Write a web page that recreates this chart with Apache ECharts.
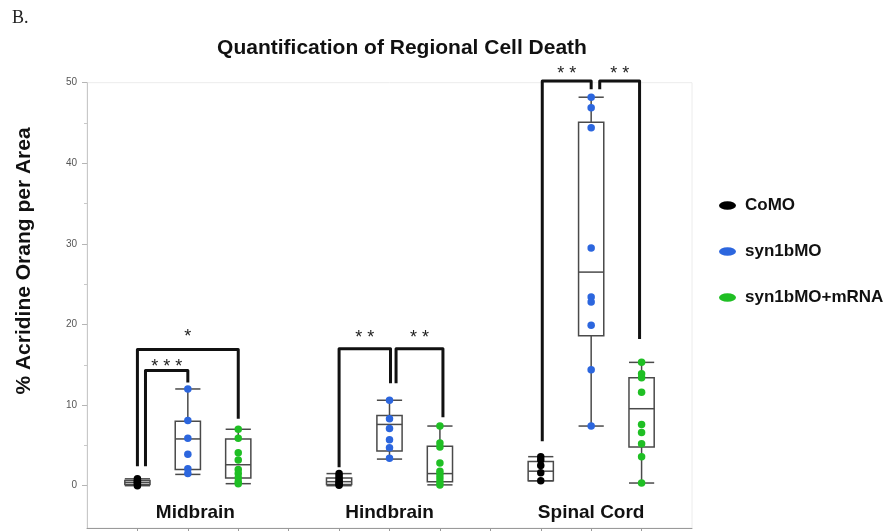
<!DOCTYPE html>
<html><head><meta charset="utf-8">
<script src="https://cdn.jsdelivr.net/npm/echarts@6/dist/echarts.min.js"></script>
<style>html,body{margin:0;padding:0;background:#fff}#c{width:893px;height:531px}</style>
</head><body><div id="c"></div>
<script>
const regions = ['Midbrain', 'Hindbrain', 'Spinal Cord'];
const groups = ['CoMO', 'syn1bMO', 'syn1bMO+mRNA'];
const yTicks = [0, 10, 20, 30, 40, 50];
const yMinorTicks = [5, 15, 25, 35, 45];
const xTicks = [0, 1, 2, 3, 4, 5, 6, 7, 8, 9, 10];
const regionLabelPos = [1.15, 5, 9];

// box statistics per region: [min, q1, median, q3, max]
const comoBoxes = [[0.0, 0.15, 0.4, 0.65, 0.85], [0.0, 0.15, 0.5, 0.95, 1.5], [0.6, 0.6, 1.8, 3.0, 3.6]];
const synBoxes = [[1.4, 2.0, 5.8, 8.0, 12.0], [3.3, 4.3, 7.6, 8.7, 10.6], [7.4, 18.6, 26.5, 45.1, 48.2]];
const rescueBoxes = [[0.25, 0.95, 2.6, 5.8, 7.0], [0.1, 0.5, 1.5, 4.9, 7.4], [0.33, 4.8, 9.55, 13.4, 15.3]];

// individual points per region
const comoPoints = [[0.0, 0.2, 0.35, 0.5, 0.65, 0.85], [0.05, 0.2, 0.4, 0.6, 0.9, 1.2, 1.5], [0.6, 1.6, 2.5, 3.2, 3.6]];
const synPoints = [[12.0, 8.1, 5.9, 3.9, 2.1, 1.5], [10.6, 8.3, 7.1, 5.7, 4.7, 3.4], [48.2, 46.9, 44.4, 29.5, 23.4, 22.8, 19.9, 14.4, 7.4]];
const rescuePoints = [[7.0, 5.9, 4.1, 3.2, 2.0, 1.5, 1.0, 0.5, 0.25], [7.4, 5.3, 4.8, 2.8, 1.8, 1.4, 0.95, 0.5, 0.1], [15.3, 13.9, 13.4, 11.6, 7.6, 6.6, 5.2, 3.6, 0.33]];

// significance brackets: [xLeft, xRight, yLeftEnd, yTop, yRightEnd, yStars]
const brackets = [
  [0.16, 1.0, 2.4, 14.3, 12.8, 15.4],
  [0.0, 2.0, 2.4, 16.9, 8.3, 19.1],
  [4.0, 5.02, 2.3, 17.0, 12.7, 19.0],
  [5.13, 6.06, 12.7, 17.0, 8.5, 19.0],
  [8.03, 9.0, 5.5, 50.2, 49.2, 51.7],
  [9.17, 9.96, 49.2, 50.2, 18.2, 51.7]
];
const bracketStars = ['* * *', '*', '* *', '* *', '* *', '* *'];

const colors = ['#000000', '#2c66de', '#1fbf24'];
const BOX_W = 0.5;

const allBoxes = [comoBoxes, synBoxes, rescueBoxes];
const allPoints = [comoPoints, synPoints, rescuePoints];

const boxData = [];
allBoxes.forEach((arr, g) => arr.forEach((b, r) => boxData.push([4 * r + g].concat(b))));

function renderBox(params, api) {
  const x = api.value(0);
  const lo = api.coord([x, api.value(1)]);
  const q1 = api.coord([x, api.value(2)]);
  const md = api.coord([x, api.value(3)]);
  const q3 = api.coord([x, api.value(4)]);
  const hi = api.coord([x, api.value(5)]);
  const w = api.size([BOX_W, 0])[0];
  const h = w / 2;
  const cx = lo[0];
  const st = { stroke: '#4a4a4a', lineWidth: 1.5, fill: null };
  return {
    type: 'group', children: [
      { type: 'line', shape: { x1: cx, y1: hi[1], x2: cx, y2: q3[1] }, style: st },
      { type: 'line', shape: { x1: cx, y1: q1[1], x2: cx, y2: lo[1] }, style: st },
      { type: 'line', shape: { x1: cx - h, y1: hi[1], x2: cx + h, y2: hi[1] }, style: st },
      { type: 'line', shape: { x1: cx - h, y1: lo[1], x2: cx + h, y2: lo[1] }, style: st },
      { type: 'rect', shape: { x: cx - h, y: q3[1], width: w, height: q1[1] - q3[1] }, style: { stroke: '#4a4a4a', lineWidth: 1.5, fill: 'rgba(255,255,255,0)' } },
      { type: 'line', shape: { x1: cx - h, y1: md[1], x2: cx + h, y2: md[1] }, style: st }
    ]
  };
}

function renderBracket(params, api) {
  const xl = api.value(0), xr = api.value(1);
  const p1 = api.coord([xl, api.value(2)]);
  const p2 = api.coord([xl, api.value(3)]);
  const p3 = api.coord([xr, api.value(3)]);
  const p4 = api.coord([xr, api.value(4)]);
  const ps = api.coord([(xl + xr) / 2, api.value(5)]);
  return {
    type: 'group', children: [
      { type: 'polyline', shape: { points: [p1, p2, p3, p4] }, style: { stroke: '#111', lineWidth: 3, fill: null, lineJoin: 'round', lineCap: 'butt' } },
      { type: 'text', x: ps[0], y: ps[1] + 5, style: { text: bracketStars[params.dataIndex], fontSize: 18, fontFamily: 'Liberation Sans', fill: '#222', textAlign: 'center', textVerticalAlign: 'middle' } }
    ]
  };
}

const series = [
  { type: 'custom', name: 'boxes', renderItem: renderBox, data: boxData, encode: { x: 0, y: [1, 2, 3, 4, 5] }, z: 2, clip: false, silent: true }
];
groups.forEach((name, g) => {
  const d = [];
  allPoints[g].forEach((vals, r) => vals.forEach(v => d.push([4 * r + g, v])));
  series.push({ type: 'scatter', name: name, data: d, symbolSize: 7.5, itemStyle: { color: colors[g], opacity: 1 }, z: 3 });
});
series.push({ type: 'custom', name: 'brackets', renderItem: renderBracket, data: brackets, encode: { x: [0, 1], y: [2, 3, 4] }, z: 5, clip: false, silent: true });

const chart = echarts.init(document.getElementById('c'), null, { renderer: 'canvas' });
chart.setOption({
  backgroundColor: '#fff',
  animation: false,
  title: {
    text: 'Quantification of Regional Cell Death',
    left: 397, top: 33, textAlign: 'center',
    textStyle: { fontFamily: 'Liberation Sans', fontWeight: 'bold', fontSize: 21, color: '#111' }
  },
  legend: {
    orient: 'vertical', left: 714, top: 192,
    data: groups,
    icon: 'path://M0,5a10,5 0 1,0 20,0a10,5 0 1,0 -20,0',
    itemWidth: 17, itemHeight: 11, itemGap: 29,
    textStyle: { fontFamily: 'Liberation Sans', fontWeight: 'bold', fontSize: 17, color: '#111', padding: [0, 0, 0, 4] }
  },
  grid: { left: 87, right: 201, top: 82.7, bottom: 3, show: true, borderColor: '#ececec', borderWidth: 1, containLabel: false },
  xAxis: {
    type: 'value', min: -1, max: 11,
    axisLine: { show: true, onZero: false, lineStyle: { color: '#9a9a9a', width: 1 } },
    axisTick: { show: true, customValues: xTicks, length: 4, lineStyle: { color: '#9a9a9a' } },
    axisLabel: {
      show: true, customValues: regionLabelPos, inside: true, margin: 6,
      formatter: v => regions[Math.round((Math.round(v) - 1) / 4)],
      fontFamily: 'Liberation Sans', fontWeight: 'bold', fontSize: 19, color: '#111'
    },
    splitLine: { show: false }
  },
  yAxis: [{
    type: 'value', min: -5.25, max: 50,
    axisLine: { show: true, onZero: false, lineStyle: { color: '#c8c8c8' } },
    axisTick: { show: true, customValues: yTicks, length: 5, lineStyle: { color: '#b5b5b5' } },
    axisLabel: { customValues: yTicks, color: '#555', fontSize: 10, margin: 10, fontFamily: 'Liberation Sans' },
    splitLine: { show: false }
  }, {
    type: 'value', min: -5.25, max: 50, position: 'left',
    axisLine: { show: false, onZero: false },
    axisTick: { show: true, customValues: yMinorTicks, length: 3, lineStyle: { color: '#c8c8c8' } },
    axisLabel: { show: false },
    splitLine: { show: false }
  }],
  graphic: [
    { type: 'text', left: 12, top: 9, style: { text: 'B.', fontFamily: 'Liberation Serif', fontSize: 18, fill: '#222' } },
    { type: 'text', x: 24, y: 261, rotation: Math.PI / 2, style: { text: '% Acridine Orang per Area', fontFamily: 'Liberation Sans', fontWeight: 'bold', fontSize: 21, fill: '#111', textAlign: 'center', textVerticalAlign: 'middle' } }
  ],
  series: series
});
</script>
</body></html>
